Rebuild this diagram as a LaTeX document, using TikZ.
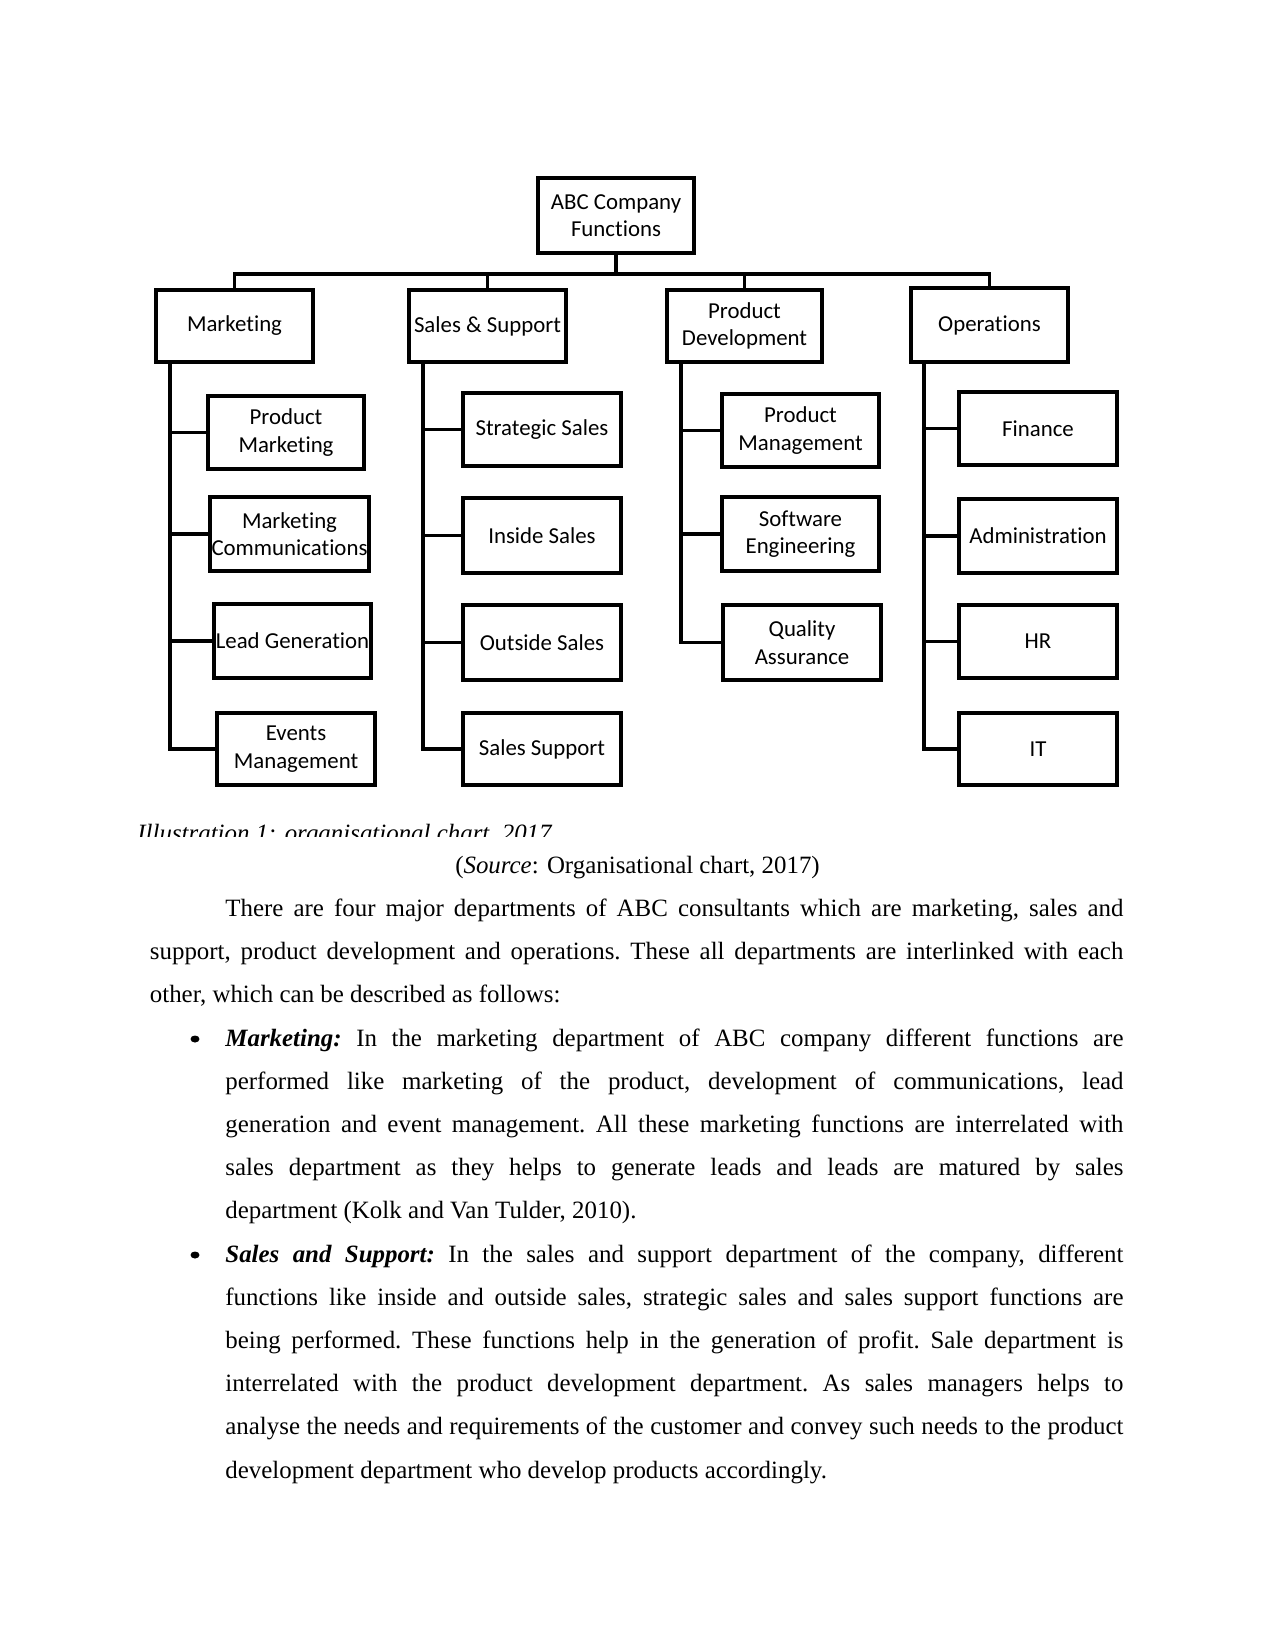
\documentclass[tikz,border=0pt]{standalone}
\usepackage{fontspec}
\setmainfont{Liberation Serif}
\newfontfamily\chartfont[Ligatures=NoCommon]{Carlito}
\usetikzlibrary{calc}
\begin{document}
\begin{tikzpicture}[x=0.4818pt, y=-0.4818pt,
  bx/.style={draw, line width=1.6pt, inner sep=0pt, align=center, font=\chartfont\fontsize{11}{13.3}\selectfont},
  sz/.style 2 args={minimum width=#1*0.4818pt, minimum height=#2*0.4818pt},
  ln/.style={line width=1.8pt},
  body/.style={anchor=base west, inner sep=0pt, font=\fontsize{12}{14}\selectfont\frenchspacing},
]
\useasboundingbox (0,0) rectangle (1275,1651);
\fill[white] (0,0) rectangle (1275,1651);

% root and level 1
\node[bx, sz={156}{75}] (root) at (616,215.5) {ABC Company\\Functions};
\node[bx, sz={157}{72}] (mk) at (234.5,326) {Marketing};
\node[bx, sz={157}{72}] (ss) at (487.5,326) {Sales \& Support};
\node[bx, sz={155}{72}] (pd) at (744.5,326) {Product\\Development};
\node[bx, sz={157}{74}] (ops) at (989.5,325) {Operations};

% marketing children
\node[bx, sz={156}{73}] (pm) at (286,432.5) {Product\\Marketing};
\node[bx, sz={159}{74}] (mc) at (289.5,534) {Marketing\\Communications};
\node[bx, sz={157}{74}] (lg) at (292.5,641) {Lead Generation};
\node[bx, sz={158}{72}] (em) at (296,749) {Events\\Management};

% sales children
\node[bx, sz={158}{73}] (st) at (542,429.5) {Strategic Sales};
\node[bx, sz={158}{75}] (is) at (542,535.5) {Inside Sales};
\node[bx, sz={158}{75}] (os) at (542,642.5) {Outside Sales};
\node[bx, sz={158}{72}] (sp) at (542,749) {Sales Support};

% product development children
\node[bx, sz={157}{73}] (pmg) at (800.5,430.5) {Product\\Management};
\node[bx, sz={157}{74}] (se) at (800.5,534) {Software\\Engineering};
\node[bx, sz={158}{75}] (qa) at (802,642.5) {Quality\\Assurance};

% operations children
\node[bx, sz={158}{73}] (fi) at (1038,428.5) {Finance};
\node[bx, sz={158}{74}] (ad) at (1038,536) {Administration};
\node[bx, sz={158}{73}] (hr) at (1038,641.5) {HR};
\node[bx, sz={158}{72}] (it) at (1038,749) {IT};

% top connectors
\coordinate (bus) at (616,274);
\draw[ln] (root.south) -- (bus);
\draw[ln] (mk.north) |- (bus) -| (ops.north);
\draw[ln] (ss.north) -- (ss.north |- bus);
\draw[ln] (pd.north) -- (pd.north |- bus);

% spines
\coordinate (mks) at ($(mk.south west)+(16,0)$);
\coordinate (sss) at ($(ss.south west)+(16,0)$);
\coordinate (pds) at ($(pd.south west)+(16,0)$);
\coordinate (ops s) at ($(ops.south west)+(15,0)$);

\draw[ln] (mks) |- (em.west);
\draw[ln] (pm.west) -- (pm.west -| mks);
\draw[ln] (mc.west) -- (mc.west -| mks);
\draw[ln] (lg.west) -- (lg.west -| mks);

\draw[ln] (sss) |- (sp.west);
\draw[ln] (st.west) -- (st.west -| sss);
\draw[ln] (is.west) -- (is.west -| sss);
\draw[ln] (os.west) -- (os.west -| sss);

\draw[ln] (pds) |- (qa.west);
\draw[ln] (pmg.west) -- (pmg.west -| pds);
\draw[ln] (se.west) -- (se.west -| pds);

\draw[ln] (ops s) |- (it.west);
\draw[ln] (fi.west) -- (fi.west -| ops s);
\draw[ln] (ad.west) -- (ad.west -| ops s);
\draw[ln] (hr.west) -- (hr.west -| ops s);

% clipped caption
\begin{scope}
\clip (0,0) rectangle (1275,836);
\node[body, font=\itshape\fontsize{12}{14}\selectfont] (cap) at (137,841) {Illustration 1: organisational chart, 2017};
\end{scope}

\node[anchor=base, inner sep=0pt, font=\fontsize{12}{14}\selectfont] (src) at (637.5,873) {(\textit{Source}: Organisational chart, 2017)};

% body text
\node[body] (l1) at (225,916.5) {\makebox[432.7pt][s]{There are four major departments of ABC consultants which are marketing, sales and}};
\node[body] (l2) at (149.5,959.7) {\makebox[469.0pt][s]{support, product development and operations. These all departments are interlinked with each}};
\node[body] (l3) at (149.5,1002.9) {other, which can be described as follows:};

\fill (195,1039) ellipse [x radius=4.5, y radius=3.5];
\node[body] (l4) at (225,1046.1) {\makebox[432.7pt][s]{\textbf{\textit{Marketing:}} In the marketing department of ABC company different functions are}};
\node[body] (l5) at (225,1089.3) {\makebox[432.7pt][s]{performed like marketing of the product, development of communications, lead}};
\node[body] (l6) at (225,1132.5) {\makebox[432.7pt][s]{generation and event management. All these marketing functions are interrelated with}};
\node[body] (l7) at (225,1175.7) {\makebox[432.7pt][s]{sales department as they helps to generate leads and leads are matured by sales}};
\node[body] (l8) at (225,1218.9) {department (Kolk and Van Tulder, 2010).};

\fill (195,1255) ellipse [x radius=4.5, y radius=3.5];
\node[body] (l9) at (225,1262.1) {\makebox[432.7pt][s]{\textbf{\textit{Sales and Support:}} In the sales and support department of the company, different}};
\node[body] (l10) at (225,1305.3) {\makebox[432.7pt][s]{functions like inside and outside sales, strategic sales and sales support functions are}};
\node[body] (l11) at (225,1348.5) {\makebox[432.7pt][s]{being performed. These functions help in the generation of profit. Sale department is}};
\node[body] (l12) at (225,1391.7) {\makebox[432.7pt][s]{interrelated with the product development department. As sales managers helps to}};
\node[body] (l13) at (225,1434.9) {\makebox[432.7pt][s]{analyse the needs and requirements of the customer and convey such needs to the product}};
\node[body] (l14) at (225,1478.1) {development department who develop products accordingly.};
\end{tikzpicture}
\end{document}
